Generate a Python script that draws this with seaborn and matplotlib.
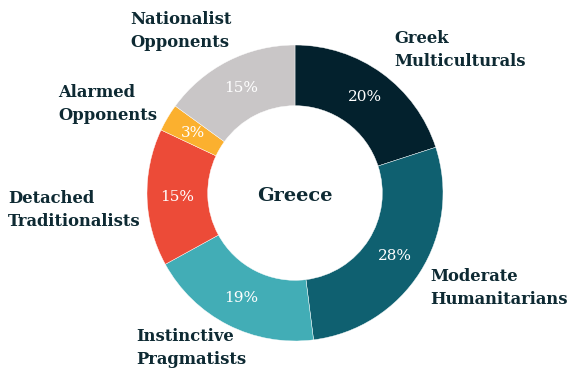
import matplotlib
matplotlib.use("Agg")
import matplotlib.pyplot as plt
import seaborn as sns

segments = ["Greek\nMulticulturals", "Moderate\nHumanitarians", "Instinctive\nPragmatists",
            "Detached\nTraditionalists", "Alarmed\nOpponents", "Nationalist\nOpponents"]
shares = [20, 28, 19, 15, 3, 15]
colors = ["#03212d", "#0f6070", "#42adb6", "#ec4b38", "#fbb02f", "#c9c6c7"]
center_title = "Greece"

sns.set_theme(style="white")
plt.rcParams["font.family"] = ["DejaVu Serif"]

TEXT = "#0e2a33"
W, H = 567, 374
fig = plt.figure(figsize=(W / 100, H / 100), dpi=100)
cx, cy, R = 295, 193, 148
ax = fig.add_axes([(cx - R) / W, (H - cy - R) / H, 2 * R / W, 2 * R / H])

wedges, _, pcts = ax.pie(
    shares, colors=colors, startangle=90, counterclock=False,
    radius=1.0, pctdistance=0.8, autopct=lambda p: f"{p:.0f}%",
    wedgeprops=dict(width=0.41, edgecolor="white", linewidth=0.3),
    textprops=dict(color="white", fontsize=11),
)
ax.set_xlim(-1, 1)
ax.set_ylim(-1, 1)
ax.set_aspect("equal")
ax.axis("off")

# segment name placement (axes-data units, left edge / vertical centre)
label_pos = [(0.669, 0.966), (0.912, -0.642), (-1.074, -1.047),
             (-1.939, -0.115), (-1.601, 0.601), (-1.115, 1.095)]
for name, (x, y) in zip(segments, label_pos):
    ax.text(x, y, name, ha="left", va="center", fontsize=11.8, fontweight="bold",
            color=TEXT, linespacing=1.45, clip_on=False)

ax.text(0, -0.02, center_title, ha="center", va="center", fontsize=14,
        fontweight="bold", color=TEXT)

fig.savefig("out.png", dpi=100, facecolor="white")
